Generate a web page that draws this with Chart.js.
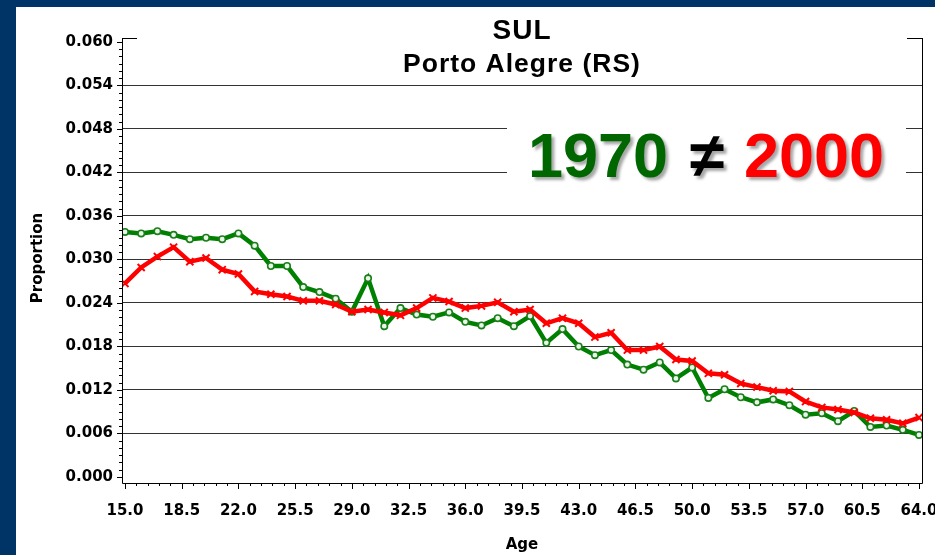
<!DOCTYPE html>
<html>
<head>
<meta charset="utf-8">
<script src="https://cdn.jsdelivr.net/npm/chart.js@4.4.1/dist/chart.umd.min.js"></script>
<style>
  html, body { margin: 0; padding: 0; background: #003366; width: 935px; height: 555px; overflow: hidden; }
  #wrap { position: absolute; left: 16px; top: 7px; width: 919px; height: 548px; background: #ffffff; }
</style>
</head>
<body>
<div id="wrap"><canvas id="chart" width="919" height="548"></canvas></div>
<script>
// Age 15..64, proportion of population by age
const ages = [15, 16, 17, 18, 19, 20, 21, 22, 23, 24, 25, 26, 27, 28, 29, 30, 31, 32, 33, 34,
  35, 36, 37, 38, 39, 40, 41, 42, 43, 44, 45, 46, 47, 48, 49, 50, 51, 52, 53, 54,
  55, 56, 57, 58, 59, 60, 61, 62, 63, 64];

const prop1970 = [0.0338, 0.0336, 0.0339, 0.0334, 0.0328, 0.0330, 0.0328, 0.0336, 0.0319, 0.0291,
  0.0291, 0.0262, 0.0255, 0.0246, 0.0228, 0.0274, 0.0208, 0.0233, 0.0224, 0.0221,
  0.0227, 0.0214, 0.0209, 0.0219, 0.0208, 0.0222, 0.0185, 0.0204, 0.0180, 0.0168,
  0.0175, 0.0155, 0.0148, 0.0158, 0.0136, 0.0151, 0.0109, 0.0121, 0.0110, 0.0103,
  0.0107, 0.0099, 0.0086, 0.0088, 0.0077, 0.0091, 0.0069, 0.0071, 0.0065, 0.0058];

const prop2000 = [0.0267, 0.0289, 0.0304, 0.0317, 0.0297, 0.0302, 0.0286, 0.0280, 0.0256, 0.0252,
  0.0249, 0.0243, 0.0243, 0.0238, 0.0228, 0.0231, 0.0227, 0.0223, 0.0233, 0.0247,
  0.0242, 0.0233, 0.0236, 0.0241, 0.0228, 0.0231, 0.0212, 0.0219, 0.0212, 0.0193,
  0.0199, 0.0175, 0.0175, 0.0180, 0.0162, 0.0160, 0.0143, 0.0141, 0.0129, 0.0124,
  0.0119, 0.0118, 0.0104, 0.0096, 0.0093, 0.0089, 0.0081, 0.0079, 0.0074, 0.0082];

const xTickValues = [15.0, 18.5, 22.0, 25.5, 29.0, 32.5, 36.0, 39.5, 43.0, 46.5, 50.0, 53.5, 57.0, 60.5, 64.0];
const yTickValues = [0.000, 0.006, 0.012, 0.018, 0.024, 0.030, 0.036, 0.042, 0.048, 0.054, 0.060];

const titleLines = ["SUL", "Porto Alegre (RS)"];
const xTitle = "Age";
const yTitle = "Proportion";

const tickFont = { family: "DejaVu Sans", size: 15, weight: "bold" };

// frame, tick marks, titles and the big comparison text
const decorations = {
  id: "decorations",
  beforeDatasetsDraw(chart) {
    const ctx = chart.ctx;
    // white box behind the big text cuts the grid lines
    ctx.save();
    ctx.fillStyle = "#ffffff";
    ctx.fillRect(491, 88, 399, 110);
    ctx.restore();
  },
  afterDraw(chart) {
    const ctx = chart.ctx;
    const a = chart.chartArea;
    const xs = chart.scales.x, ys = chart.scales.y;
    ctx.save();
    ctx.strokeStyle = "#000";
    ctx.lineWidth = 1;
    ctx.beginPath();
    // left, bottom, right lines
    ctx.moveTo(a.left + 0.5, a.top); ctx.lineTo(a.left + 0.5, a.bottom + 0.5);
    ctx.lineTo(a.right + 0.5, a.bottom + 0.5); ctx.lineTo(a.right + 0.5, a.top);
    // short top stubs
    ctx.moveTo(a.left, a.top + 0.5); ctx.lineTo(a.left + 15, a.top + 0.5);
    ctx.moveTo(a.right - 15, a.top + 0.5); ctx.lineTo(a.right + 1, a.top + 0.5);
    // y ticks, minor every 0.001
    for (let i = 0; i <= 60; i++) {
      const py = Math.round(ys.getPixelForValue(i / 1000)) + 0.5;
      const len = i % 6 === 0 ? 5 : 3;
      ctx.moveTo(a.left - len, py); ctx.lineTo(a.left, py);
    }
    // x ticks, minor every 0.7
    for (let i = 0; i <= 70; i++) {
      const px = Math.round(xs.getPixelForValue(15 + i * 0.7)) + 0.5;
      const len = i % 5 === 0 ? 6 : 3;
      ctx.moveTo(px, a.bottom); ctx.lineTo(px, a.bottom + len);
    }
    ctx.stroke();

    // titles
    const cx = (a.left + a.right) / 2;
    ctx.fillStyle = "#000";
    ctx.textAlign = "center";
    ctx.textBaseline = "alphabetic";
    ctx.letterSpacing = "1px";
    ctx.font = "bold 28px 'Liberation Sans'";
    ctx.fillText(titleLines[0], cx, 32);
    ctx.font = "bold 26.5px 'Liberation Sans'";
    ctx.fillText(titleLines[1], cx, 65);
    ctx.letterSpacing = "0px";

    // axis titles
    ctx.font = "bold 15px 'DejaVu Sans'";
    ctx.textBaseline = "middle";
    ctx.fillText(xTitle, cx, 538);
    ctx.save();
    ctx.font = "bold 15px 'DejaVu Sans'";
    ctx.translate(22, 251);
    ctx.rotate(-Math.PI / 2);
    ctx.fillText(yTitle, 0, 0);
    ctx.restore();

    // big text with shadow
    ctx.font = "bold 63px 'Liberation Sans'";
    ctx.textBaseline = "alphabetic";
    ctx.shadowColor = "rgba(0,0,0,0.35)";
    ctx.shadowOffsetX = 3;
    ctx.shadowOffsetY = 3;
    ctx.shadowBlur = 3;
    ctx.fillStyle = "#006600";
    ctx.fillText("1970", 582, 170);
    ctx.fillStyle = "#000000";
    ctx.fillText("\u2260", 691, 170);
    ctx.fillStyle = "#ff0000";
    ctx.fillText("2000", 798, 170);
    ctx.restore();
  }
};

new Chart(document.getElementById("chart"), {
  type: "line",
  data: {
    datasets: [
      {
        label: "2000",
        data: ages.map((a, i) => ({ x: a, y: prop2000[i] })),
        borderColor: "#ff0000",
        borderWidth: 4.5,
        pointStyle: "crossRot",
        pointRadius: 5,
        pointBorderWidth: 2,
        pointBorderColor: "#ff0000",
        pointBackgroundColor: "#ff0000",
        tension: 0,
        order: 1
      },
      {
        label: "1970",
        data: ages.map((a, i) => ({ x: a, y: prop1970[i] })),
        borderColor: "#008000",
        borderWidth: 4.5,
        pointStyle: "circle",
        pointRadius: 3.2,
        pointBorderWidth: 1.6,
        pointBorderColor: "#1a7f1a",
        pointBackgroundColor: "#e8f5e8",
        tension: 0,
        order: 2
      }
    ]
  },
  options: {
    responsive: false,
    animation: false,
    devicePixelRatio: 1,
    layout: { padding: { top: 31, right: 13, left: 0, bottom: 0 } },
    plugins: { legend: { display: false }, tooltip: { enabled: false } },
    scales: {
      x: {
        type: "linear",
        min: 14.815,
        max: 64.185,
        afterBuildTicks: s => { s.ticks = xTickValues.map(v => ({ value: v })); },
        afterFit: s => { s.height = 72; s.paddingLeft = 0; s.paddingRight = 0; },
        grid: { display: false, drawTicks: false },
        border: { display: false },
        ticks: {
          autoSkip: false, maxRotation: 0, color: "#000", font: tickFont, padding: 19,
          callback: v => Number(v).toFixed(1)
        }
      },
      y: {
        min: -0.000828,
        max: 0.06055,
        afterBuildTicks: s => { s.ticks = yTickValues.map(v => ({ value: v })); },
        afterFit: s => { s.width = 106; s.paddingTop = 0; s.paddingBottom = 0; },
        grid: {
          drawTicks: false,
          lineWidth: 1,
          color: c => (c.tick && (c.tick.value === 0 || c.tick.value === 0.06)) ? "rgba(0,0,0,0)" : "#333333"
        },
        border: { display: false },
        ticks: {
          color: "#000", font: tickFont, padding: 9,
          callback: v => Number(v).toFixed(3)
        }
      }
    }
  },
  plugins: [decorations]
});
</script>
</body>
</html>
